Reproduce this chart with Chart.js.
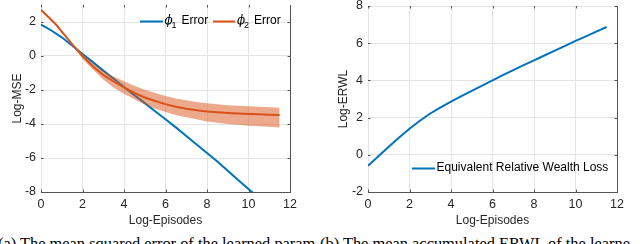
<!DOCTYPE html>
<html>
<head>
<meta charset="utf-8">
<script src="https://cdn.jsdelivr.net/npm/chart.js@4.4.1/dist/chart.umd.min.js"></script>
<style>
  html, body { margin: 0; padding: 0; background: #fff; width: 640px; height: 244px; overflow: hidden; }
  canvas { position: absolute; top: 0; }
  #c1 { left: 0; }
  #c2 { left: 320px; }
  .cap { position: absolute; top: 236px; font-family: "Liberation Serif", "DejaVu Serif", serif; font-size: 16.4px; line-height: 15px; color: #000; white-space: nowrap; }
</style>
</head>
<body>
<canvas id="c1" width="320" height="232"></canvas>
<canvas id="c2" width="320" height="232"></canvas>
<div class="cap" style="left:-2px">(a) The mean squared error of the learned param</div>
<div class="cap" style="left:320px">(b) The mean accumulated ERWL of the learne</div>
<script>
// ---------- data ----------
const episodes = [0,0.5,1,1.5,2,2.5,3,3.5,4,4.5,5,5.5,6,6.5,7,7.5,8,8.5,9,9.5,10,10.5,11,11.5];
const phi1Error = [1.85,1.5,1.1,0.62,0.12,-0.36,-0.86,-1.34,-1.82,-2.3,-2.77,-3.25,-3.72,-4.2,-4.7,-5.2,-5.7,-6.2,-6.75,-7.3,-7.82,-8.35,-8.9,-9.45];

const phi2Episodes = [0,0.7,1.5,2,2.5,3,3.5,4,4.5,5,5.5,6,6.5,7,7.5,8,8.5,9,9.5,10,10.5,11,11.5];
const phi2Error = [2.72,1.88,0.7,0.0,-0.6,-1.12,-1.5,-1.85,-2.17,-2.44,-2.65,-2.83,-2.98,-3.1,-3.19,-3.26,-3.31,-3.35,-3.38,-3.41,-3.43,-3.45,-3.47];

const bandEpisodes = [1.5,2,2.5,3,3.5,4,4.5,5,5.5,6,6.5,7,7.5,8,8.5,9,9.5,10,10.5,11,11.5];
const phi2Upper = [0.7,0.12,-0.42,-0.88,-1.2,-1.48,-1.75,-1.98,-2.18,-2.35,-2.5,-2.61,-2.7,-2.78,-2.84,-2.89,-2.93,-2.96,-2.99,-3.02,-3.05];
const phi2Lower = [0.7,-0.18,-0.8,-1.38,-1.85,-2.22,-2.55,-2.85,-3.1,-3.3,-3.47,-3.6,-3.72,-3.85,-3.93,-4.0,-4.05,-4.1,-4.13,-4.16,-4.2];

const erwl = [-0.59,-0.08,0.43,0.93,1.4,1.83,2.22,2.55,2.86,3.15,3.44,3.72,4.0,4.28,4.55,4.82,5.08,5.34,5.6,5.86,6.12,6.37,6.62,6.87];

const xTicks = [0,2,4,6,8,10,12];
const mseTicks = [-8,-6,-4,-2,0,2];
const erwlTicks = [-2,0,2,4,6,8];

const xTitle = 'Log-Episodes';
const mseTitle = 'Log-MSE';
const erwlTitle = 'Log-ERWL';
const legendErwl = 'Equivalent Relative Wealth Loss';

// ---------- style ----------
const BLUE = '#0072BD';
const ORANGE = '#D95319';
const BAND = 'rgba(217,83,25,0.5)';
const GRID = '#e4e4e4';
const AXIS = '#555555';
const TXT = '#262626';
const FONT = '"Liberation Sans", Arial, sans-serif';

const pts = (xs, ys) => xs.map((x, i) => ({x, y: ys[i]}));

function boxPlugin() {
  return {
    id: 'box',
    afterDraw(chart) {
      const {ctx, chartArea: a, scales} = chart;
      ctx.save();
      ctx.strokeStyle = AXIS;
      ctx.lineWidth = 1;
      ctx.beginPath();
      const r = Math.round(a.right) + 0.5;
      ctx.moveTo(r, a.top); ctx.lineTo(r, a.bottom + 0.5);
      scales.x.ticks.forEach(t => {
        const px = Math.round(scales.x.getPixelForValue(t.value)) + 0.5;
        ctx.moveTo(px, a.bottom); ctx.lineTo(px, a.bottom - 2.5);
        ctx.moveTo(px, a.top); ctx.lineTo(px, a.top + 2.5);
      });
      scales.y.ticks.forEach(t => {
        const py = Math.round(scales.y.getPixelForValue(t.value)) + 0.5;
        ctx.moveTo(a.left, py); ctx.lineTo(a.left + 2.5, py);
        ctx.moveTo(a.right, py); ctx.lineTo(a.right - 2.5, py);
      });
      ctx.stroke();
      ctx.restore();
    }
  };
}

function baseScales(yMin, yMax, yTicks, yTitle, yAxisWidth, yTitlePad) {
  return {
    x: {
      type: 'linear', min: 0, max: 12,
      afterBuildTicks: s => { s.ticks = xTicks.map(v => ({value: v})); },
      afterFit: s => { s.height = 40; s.paddingLeft = 0; s.paddingRight = 0; },
      grid: { color: GRID, drawTicks: false, lineWidth: 1 },
      border: { display: true, color: AXIS, width: 1 },
      ticks: { padding: 5, color: TXT, font: { family: FONT, size: 12.5 }, maxRotation: 0 },
      title: { display: true, text: xTitle, color: TXT, font: { family: FONT, size: 12 }, padding: { top: 0, bottom: 4 } }
    },
    y: {
      type: 'linear', min: yMin, max: yMax,
      afterBuildTicks: s => { s.ticks = yTicks.map(v => ({value: v})); },
      afterFit: s => { s.width = yAxisWidth; s.paddingTop = 0; s.paddingBottom = 0; },
      grid: { color: GRID, drawTicks: false, lineWidth: 1 },
      border: { display: false },
      ticks: { padding: 5, color: TXT, font: { family: FONT, size: 12.5 } },
      title: { display: true, text: yTitle, color: TXT, font: { family: FONT, size: 12 }, padding: { top: yTitlePad, bottom: 0 } }
    }
  };
}

// ---------- chart (a) ----------
const legendA = {
  id: 'legendA',
  afterDraw(chart) {
    const ctx = chart.ctx;
    ctx.save();
    const y = 21;
    const items = [
      {color: BLUE, x0: 140, x1: 163, sub: '1', phiX: 164.5, errX: 181.5},
      {color: ORANGE, x0: 213, x1: 235, sub: '2', phiX: 237, errX: 254}
    ];
    items.forEach(it => {
      ctx.strokeStyle = it.color; ctx.lineWidth = 2;
      ctx.beginPath(); ctx.moveTo(it.x0, y + 0.5); ctx.lineTo(it.x1, y + 0.5); ctx.stroke();
      ctx.fillStyle = '#000';
      ctx.textBaseline = 'middle';
      ctx.font = 'italic 12px "DejaVu Serif", serif';
      ctx.fillText('\u03D5', it.phiX, y);
      ctx.font = '9px ' + FONT;
      ctx.fillText(it.sub, it.phiX + 7, y + 5);
      ctx.font = '12px ' + FONT;
      ctx.fillText('Error', it.errX, y);
    });
    ctx.restore();
  }
};

new Chart(document.getElementById('c1'), {
  type: 'line',
  data: {
    datasets: [
      { label: 'phi1', data: pts(episodes, phi1Error), borderColor: BLUE, borderWidth: 2, pointRadius: 0, fill: false, order: 4, tension: 0 },
      { label: 'lower', data: pts(bandEpisodes, phi2Lower), borderWidth: 0, borderColor: 'rgba(0,0,0,0)', pointRadius: 0, fill: false, order: 3 },
      { label: 'upper', data: pts(bandEpisodes, phi2Upper), borderWidth: 0, borderColor: 'rgba(0,0,0,0)', pointRadius: 0, fill: 1, backgroundColor: BAND, order: 2 },
      { label: 'phi2', data: pts(phi2Episodes, phi2Error), borderColor: ORANGE, borderWidth: 2, pointRadius: 0, fill: false, order: 1, tension: 0 }
    ]
  },
  options: {
    responsive: false, animation: false, devicePixelRatio: 1,
    layout: { padding: { left: 0, right: 30, top: 5, bottom: 0 } },
    plugins: { legend: { display: false }, tooltip: { enabled: false } },
    scales: baseScales(-8, 3, mseTicks, mseTitle, 41, 10)
  },
  plugins: [boxPlugin(), legendA]
});

// ---------- chart (b) ----------
const legendB = {
  id: 'legendB',
  afterDraw(chart) {
    const ctx = chart.ctx;
    ctx.save();
    const y = 168;
    ctx.strokeStyle = BLUE; ctx.lineWidth = 2;
    ctx.beginPath(); ctx.moveTo(92, y + 0.5); ctx.lineTo(115, y + 0.5); ctx.stroke();
    ctx.fillStyle = '#000';
    ctx.textBaseline = 'middle';
    ctx.font = '12px ' + FONT;
    ctx.fillText(legendErwl, 116.5, y);
    ctx.restore();
  }
};

new Chart(document.getElementById('c2'), {
  type: 'line',
  data: {
    datasets: [
      { label: 'ERWL', data: pts(episodes, erwl), borderColor: BLUE, borderWidth: 2, pointRadius: 0, fill: false, tension: 0 }
    ]
  },
  options: {
    responsive: false, animation: false, devicePixelRatio: 1,
    layout: { padding: { left: 0, right: 23, top: 6, bottom: 0 } },
    plugins: { legend: { display: false }, tooltip: { enabled: false } },
    scales: baseScales(-2, 8, erwlTicks, erwlTitle, 48, 16)
  },
  plugins: [boxPlugin(), legendB]
});
</script>
</body>
</html>
